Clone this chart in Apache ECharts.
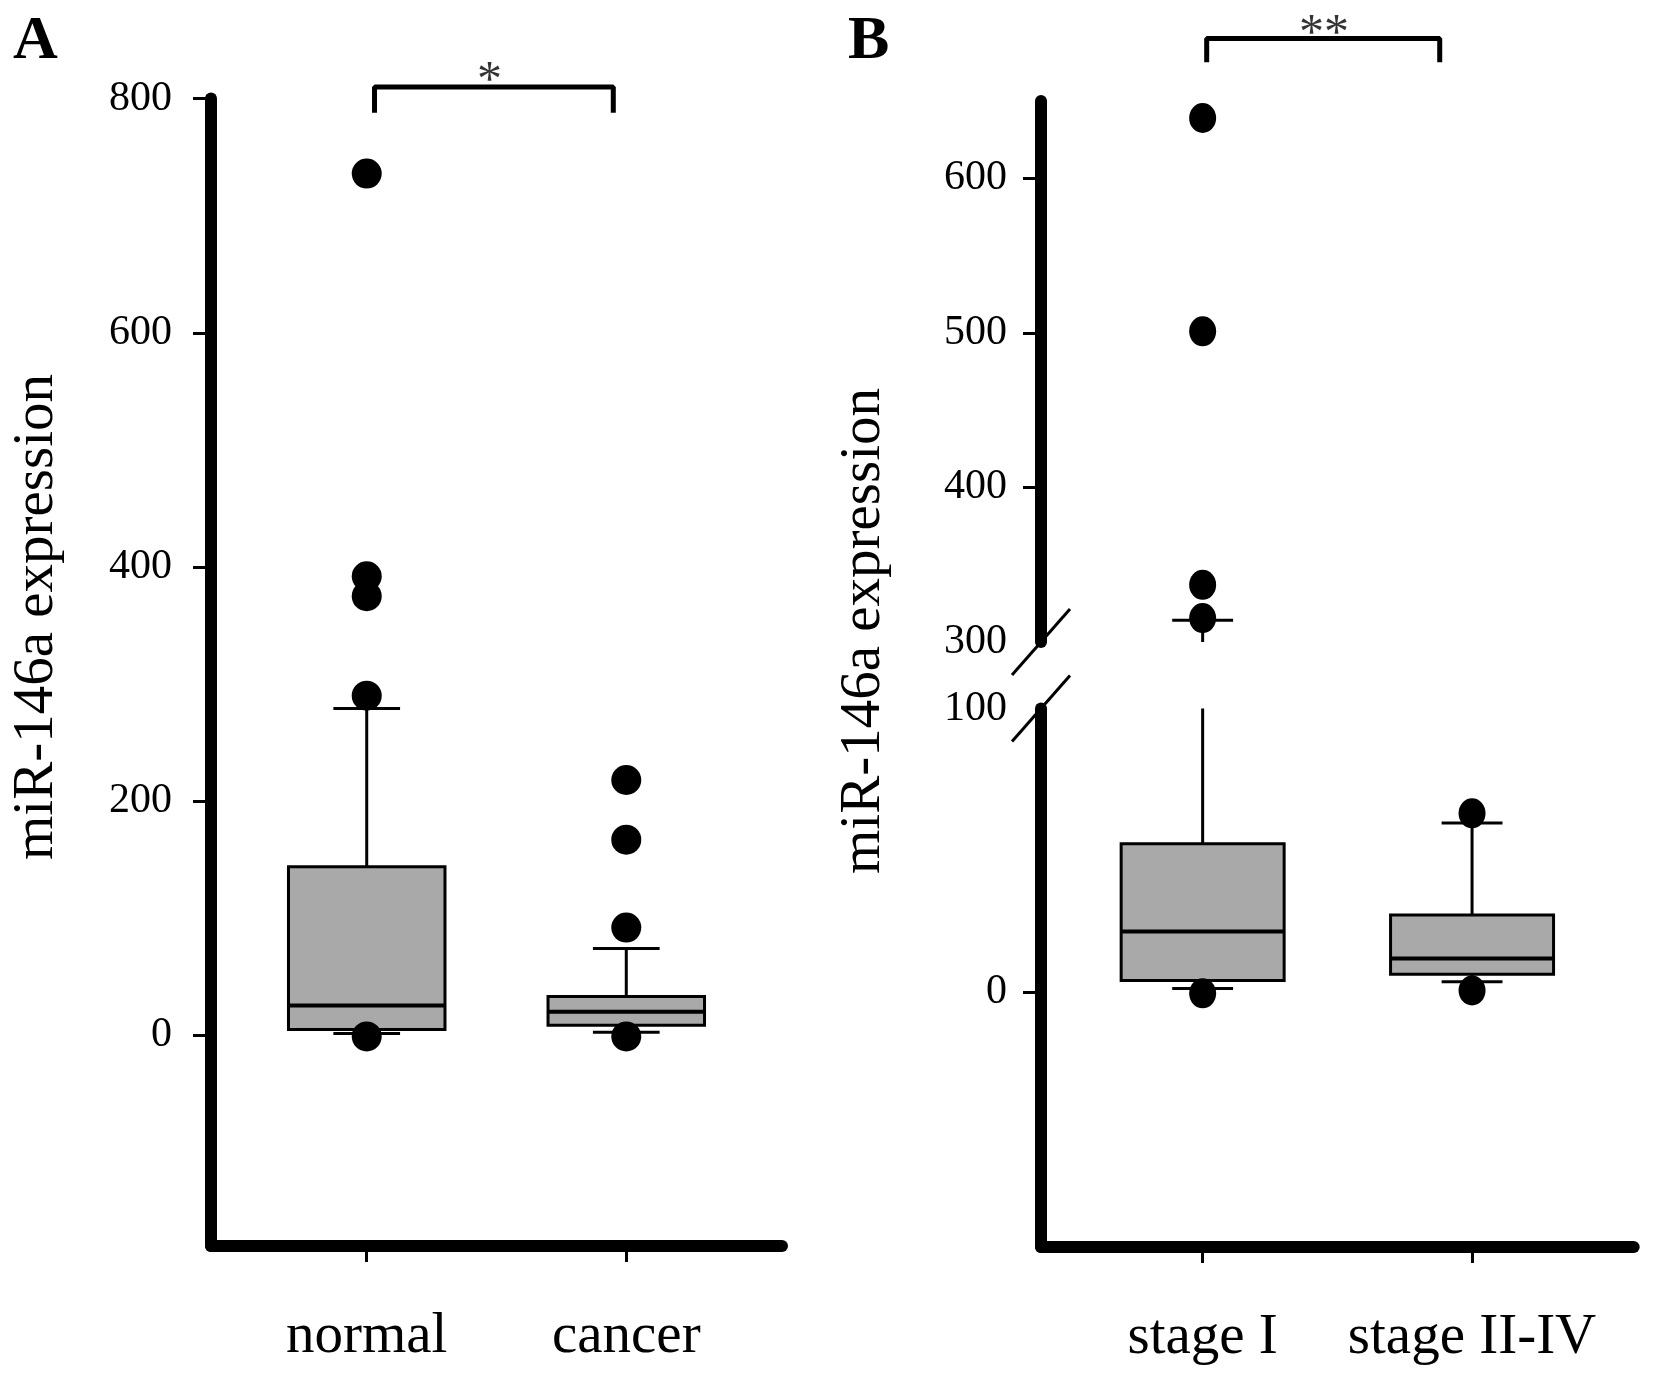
<!DOCTYPE html>
<html>
<head>
<meta charset="utf-8">
<script src="https://cdn.jsdelivr.net/npm/echarts@6/dist/echarts.min.js"></script>
<style>
html,body{margin:0;padding:0;background:#fff;}
#chart{width:1654px;height:1376px;}
</style>
</head>
<body>
<div id="chart"></div>
<script>
// ---- data ----
const categoriesA = ['normal', 'cancer'];
const boxStatsA = [[1.5, 5, 25.5, 144, 279], [2.5, 8.5, 20, 33, 74]]; // min, Q1, median, Q3, max
const outliersA = [[736, 392, 375, 290, -1], [218, 167, 92, -1]];
const tickLabelsA = [0, 200, 400, 600, 800];

const categoriesB = ['stage I', 'stage II-IV'];
const boxStatsB = [[1.2, 4, 21.3, 52.3, 314], [3.6, 6.2, 11.8, 27.1, 59.6]];
const outliersB = [[639, 501, 337, 315.5, -0.5], [63, 0.5]];
const tickLabelsBUpper = [300, 400, 500, 600];
const tickMarksBUpper = [400, 500, 600];
const tickLabelsBLower = [0, 100];
const tickMarksBLower = [0];

const yTitle = 'miR-146a expression';
const sigA = '*';
const sigB = '**';

// ---- style ----
const FONT = "'Liberation Serif', 'Times New Roman', serif";
const BLACK = '#000';
const BOX_FILL = '#a9a9a9';

const chart = echarts.init(document.getElementById('chart'), null, {renderer: 'canvas'});

function makeBox(boxFrac, capFrac) {
  return function (params, api) {
    const cs = params.coordSys;
    const x = api.value(0);
    const mn = api.value(1), q1 = api.value(2), md = api.value(3), q3 = api.value(4), mx = api.value(5);
    const cx = api.coord([x, md])[0];
    const unit = api.size([1, 0])[0];
    const hw = unit * boxFrac / 2, cw = unit * capFrac / 2;
    const top = cs.y, bot = cs.y + cs.height;
    const Y = v => api.coord([x, v])[1];
    const cl = y => Math.max(top, Math.min(bot, y));
    const inR = y => y >= top - 0.5 && y <= bot + 0.5;
    const stroke = {stroke: BLACK, lineWidth: 3};
    const children = [];
    const seg = (y1, y2) => {
      const a = cl(y1), b = cl(y2);
      if (Math.abs(a - b) > 0.5) children.push({type: 'line', shape: {x1: cx, y1: a, x2: cx, y2: b}, style: stroke});
    };
    seg(Y(q3), Y(mx));
    seg(Y(q1), Y(mn));
    [mn, mx].forEach(v => {
      const y = Y(v);
      if (inR(y)) children.push({type: 'line', shape: {x1: cx - cw, y1: y, x2: cx + cw, y2: y}, style: stroke});
    });
    const yb1 = cl(Y(q3)), yb2 = cl(Y(q1));
    if (yb2 - yb1 > 0.5) children.push({type: 'rect', shape: {x: cx - hw, y: yb1, width: 2 * hw, height: yb2 - yb1}, style: {fill: BOX_FILL, stroke: BLACK, lineWidth: 3}});
    const ym = Y(md);
    if (inR(ym)) children.push({type: 'line', shape: {x1: cx - hw, y1: ym, x2: cx + hw, y2: ym}, style: {stroke: BLACK, lineWidth: 4}});
    return {type: 'group', children};
  };
}

function axisLineStyle() {
  return {show: true, onZero: false, lineStyle: {color: BLACK, width: 12, cap: 'round'}};
}
function xAxisCfg(gridIndex, cats, show) {
  return {
    gridIndex, type: 'value', min: 0.4, max: 2.6, show,
    axisLine: axisLineStyle(),
    axisTick: {show: true, customValues: [1, 2], length: 16, lineStyle: {color: BLACK, width: 3}},
    axisLabel: {show: true, customValues: [1, 2], formatter: v => cats[Math.round(v) - 1], margin: 63,
      fontSize: 57, fontFamily: FONT, color: BLACK},
    splitLine: {show: false}
  };
}
function yAxisCfg(gridIndex, min, max, labels, ticks, margin) {
  return {
    gridIndex, type: 'value', min, max,
    axisLine: axisLineStyle(),
    axisTick: {show: true, customValues: ticks, length: 18, lineStyle: {color: BLACK, width: 3}},
    axisLabel: {show: true, customValues: labels, margin, fontSize: 42, fontFamily: FONT, color: BLACK},
    splitLine: {show: false}
  };
}
function pts(x, arr) { return arr.map(v => [x, v]); }

const series = [
  // Panel A
  {type: 'custom', xAxisIndex: 0, yAxisIndex: 0, data: boxStatsA.map((b, i) => [i + 1].concat(b)), renderItem: makeBox(0.603, 0.257), z: 2, silent: true},
  {type: 'scatter', xAxisIndex: 0, yAxisIndex: 0, data: [].concat(...outliersA.map((o, i) => pts(i + 1, o))), symbol: 'circle', symbolSize: 30, itemStyle: {color: BLACK, opacity: 1}, z: 3, silent: true},
  {type: 'line', xAxisIndex: 0, yAxisIndex: 0, data: [[1.03, 788], [1.03, 810], [1.95, 810], [1.95, 788]], symbol: 'none', clip: false, lineStyle: {color: BLACK, width: 5}, z: 3, silent: true},
  {type: 'scatter', xAxisIndex: 0, yAxisIndex: 0, data: [[1.473, 814]], symbolSize: 1, clip: false, itemStyle: {color: 'transparent'}, z: 4, silent: true,
    label: {show: true, position: 'inside', formatter: sigA, fontSize: 50, fontFamily: FONT, color: BLACK}},
  // Panel B upper
  {type: 'custom', xAxisIndex: 1, yAxisIndex: 1, data: boxStatsB.map((b, i) => [i + 1].concat(b)), renderItem: makeBox(0.605, 0.226), z: 2, silent: true},
  {type: 'scatter', xAxisIndex: 1, yAxisIndex: 1, data: [].concat(...outliersB.map((o, i) => pts(i + 1, o))), symbol: 'circle', symbolSize: [27, 30], itemStyle: {color: BLACK, opacity: 1}, z: 3, silent: true},
  {type: 'line', xAxisIndex: 1, yAxisIndex: 1, data: [[1.015, 675], [1.015, 690.5], [1.88, 690.5], [1.88, 675]], symbol: 'none', clip: false, lineStyle: {color: BLACK, width: 5}, z: 3, silent: true},
  {type: 'scatter', xAxisIndex: 1, yAxisIndex: 1, data: [[1.45, 692.5]], symbolSize: 1, clip: false, itemStyle: {color: 'transparent'}, z: 4, silent: true,
    label: {show: true, position: 'inside', formatter: sigB, fontSize: 50, fontFamily: FONT, color: BLACK}},
  // Panel B lower
  {type: 'custom', xAxisIndex: 2, yAxisIndex: 2, data: boxStatsB.map((b, i) => [i + 1].concat(b)), renderItem: makeBox(0.605, 0.226), z: 2, silent: true},
  {type: 'scatter', xAxisIndex: 2, yAxisIndex: 2, data: [].concat(...outliersB.map((o, i) => pts(i + 1, o))), symbol: 'circle', symbolSize: [27, 30], itemStyle: {color: BLACK, opacity: 1}, z: 3, silent: true}
];

const option = {
  backgroundColor: '#fff',
  animation: false,
  grid: [
    {left: 211, top: 98.6, width: 571, height: 1147.4},
    {left: 1041, top: 101, width: 592.7, height: 541},
    {left: 1041, top: 708.5, width: 592.7, height: 538.5}
  ],
  xAxis: [xAxisCfg(0, categoriesA, true), xAxisCfg(1, categoriesB, false), xAxisCfg(2, categoriesB, true)],
  yAxis: [
    yAxisCfg(0, -180, 800, tickLabelsA, tickLabelsA, 39),
    yAxisCfg(1, 300, 650, tickLabelsBUpper, tickMarksBUpper, 34),
    yAxisCfg(2, -90, 100, tickLabelsBLower, tickMarksBLower, 34)
  ],
  series
};
chart.setOption(option);

// decorations: panel letters, y titles, axis-break marks
const pU = chart.convertToPixel({xAxisIndex: 1, yAxisIndex: 1}, [0.4, 300]);
const pL = chart.convertToPixel({xAxisIndex: 2, yAxisIndex: 2}, [0.4, 100]);
function slash(p) {
  return {type: 'line', shape: {x1: p[0] - 29, y1: p[1] + 33, x2: p[0] + 29, y2: p[1] - 33}, style: {stroke: BLACK, lineWidth: 3}, z: 10};
}
function txt(x, y, text, size, weight, rot, align) {
  return {type: 'text', x, y, rotation: rot || 0, z: 10,
    style: {text, font: weight + ' ' + size + 'px ' + FONT, fill: BLACK,
      textAlign: align || 'center', align: align || 'center', textVerticalAlign: 'middle', verticalAlign: 'middle'}};
}
chart.setOption({
  graphic: [
    slash(pU), slash(pL),
    txt(13, 42, 'A', 62, 'bold', 0, 'left'),
    txt(848, 42, 'B', 62, 'bold', 0, 'left'),
    txt(37, 617, yTitle, 57, 'normal', Math.PI / 2),
    txt(864, 631, yTitle, 57, 'normal', Math.PI / 2)
  ]
});
</script>
</body>
</html>
